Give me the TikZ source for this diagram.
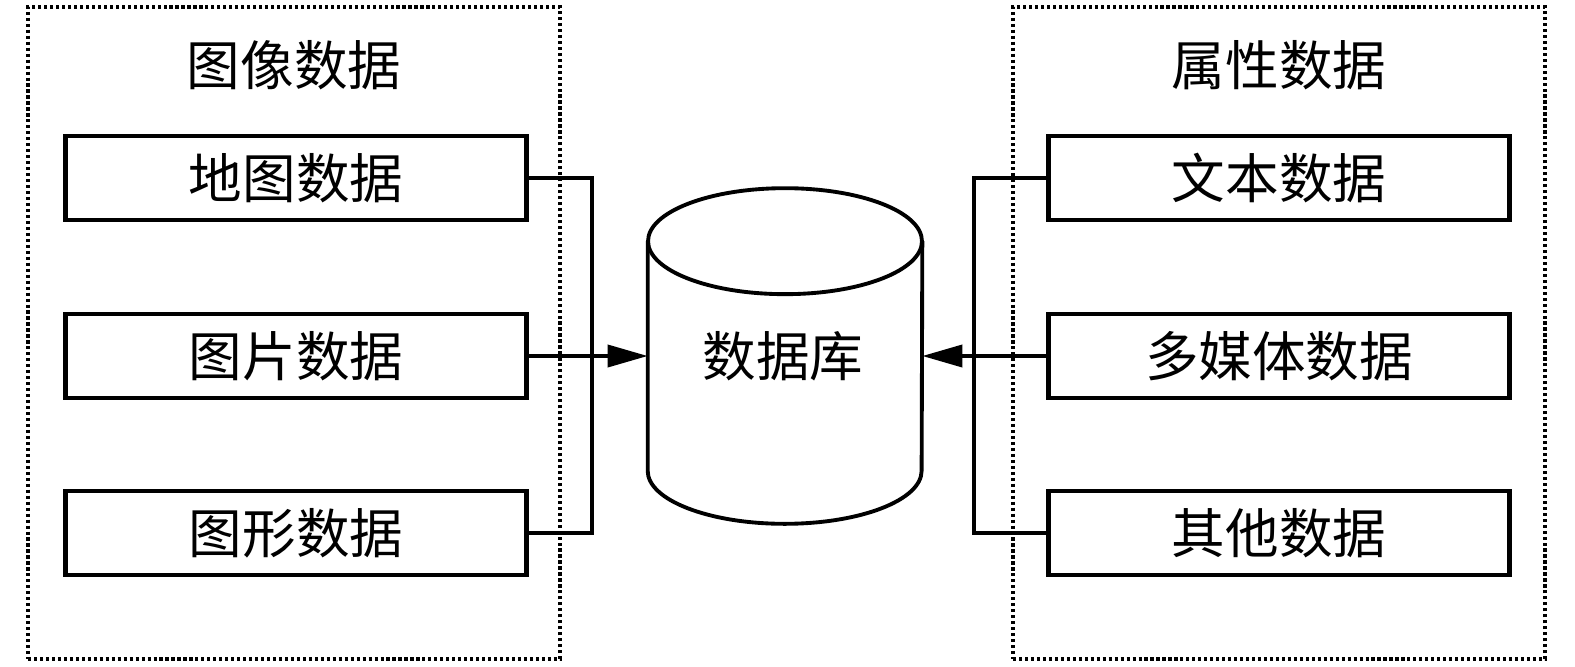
\documentclass[tikz,border=0pt]{standalone}
\usepackage{fontspec}
\newfontfamily\cjk{Noto Sans CJK SC}
\usepackage{tikz}
\usetikzlibrary{positioning,arrows.meta,calc}

\begin{document}
\begin{tikzpicture}[
    x=0.02cm, y=-0.02cm,
    font=\cjk\fontsize{30.5}{36}\selectfont,
    frame/.style={draw, line width=1.9pt, dash pattern=on 1.8pt off 1.6pt, minimum width=10.64cm, minimum height=13.04cm, inner sep=0pt},
    databox/.style={draw, line width=2.6pt, minimum width=9.22cm, minimum height=1.68cm, inner sep=0pt},
    dbcore/.style={minimum width=5.48cm, minimum height=6.7cm, inner sep=0pt},
    dbline/.style={line width=2.2pt},
    link/.style={line width=2.1pt},
    arr/.style={line width=2.1pt, -{Triangle[length=0.8cm, width=0.44cm]}},
]
\useasboundingbox (0,0) rectangle (1575,666);

% two groups
\node[frame] (imgframe) at (294,333) {};
\node[frame] (attrframe) at (1279,333) {};
\node (imgtitle) at (294,65) {图像数据};
\node (attrtitle) at (1279,65) {属性数据};

\node[databox] (map) at (296,178) {地图数据};
\node[databox] (pic) at (296,356) {图片数据};
\node[databox] (graph) at (296,533) {图形数据};

\node[databox] (text) at (1279,178) {文本数据};
\node[databox] (media) at (1279,356) {多媒体数据};
\node[databox] (other) at (1279,533) {其他数据};

% database cylinder
\node[dbcore] (base) at (785,356) {};
\draw[dbline] ($(base.north)+(0,-1.06cm)$) ellipse [x radius=2.74cm, y radius=1.06cm];
\draw[dbline] ($(base.north west)+(0,-1.06cm)$) -- ($(base.south west)+(0,1.06cm)$)
  arc[start angle=180, end angle=360, x radius=2.74cm, y radius=1.06cm]
  -- ($(base.north east)+(0,-1.06cm)$);
\node (baselabel) at (783,356) {数据库};

% connectors
\draw[link] (map.east) -- ++(63,0) |- (graph.east);
\draw[link] (text.west) -- ++(-72,0) |- (other.west);
\draw[arr] (pic.east) -- (base.west);
\draw[arr] (media.west) -- (base.east);
\end{tikzpicture}
\end{document}
